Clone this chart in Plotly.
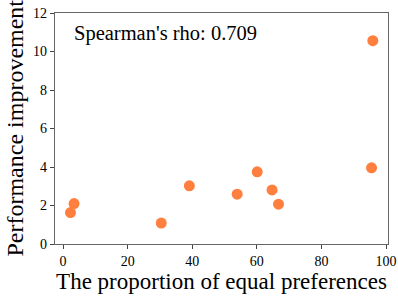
import plotly.graph_objects as go

proportion_equal = [2.3, 3.4, 30.4, 39.1, 53.9, 60.1, 64.7, 66.7, 95.5, 95.9]
perf_improvement = [1.63, 2.1, 1.09, 3.02, 2.59, 3.75, 2.81, 2.07, 3.96, 10.56]
rho_label = "Spearman's rho: 0.709"
x_title = "The proportion of equal preferences"
y_title = "Performance improvement"

fig = go.Figure()
fig.add_trace(go.Scatter(
    x=proportion_equal, y=perf_improvement, mode="markers",
    marker=dict(color="#FF7F3F", size=11, line=dict(width=0)),
    showlegend=False, hoverinfo="skip",
))
font_fam = "Liberation Serif"
fig.update_layout(
    width=398, height=298,
    margin=dict(l=55, r=10, t=13, b=54),
    paper_bgcolor="white", plot_bgcolor="white",
    font=dict(family=font_fam, color="black"),
    xaxis=dict(range=[-2.5, 100.6], tickvals=[0, 20, 40, 60, 80, 100], automargin=False,
               showline=True, mirror=True, linecolor="#666", linewidth=1.3,
               ticks="outside", ticklen=4, tickcolor="#444", showgrid=False, zeroline=False,
               tickfont=dict(size=14, family=font_fam, color="black"),
               title=dict(text=x_title, font=dict(size=23, family=font_fam), standoff=2)),
    yaxis=dict(range=[0, 12], tickvals=[0, 2, 4, 6, 8, 10, 12], automargin=False,
               showline=True, mirror=True, linecolor="#666", linewidth=1.3,
               ticks="outside", ticklen=4, tickcolor="#444", showgrid=False, zeroline=False,
               tickfont=dict(size=14, family=font_fam, color="black")),
    annotations=[
        dict(text=rho_label, xref="paper", yref="paper", x=0.05, y=0.91,
             xanchor="left", yanchor="middle", showarrow=False,
             font=dict(size=20.5, family=font_fam, color="black")),
        dict(text=y_title, xref="paper", yref="paper", x=-0.123, y=0.5, textangle=-90,
             xanchor="center", yanchor="middle", showarrow=False,
             font=dict(size=24, family=font_fam, color="black")),
    ],
)
fig.write_html("out.html", config={"displayModeBar": False},
               post_script="document.body.style.margin='0';")
